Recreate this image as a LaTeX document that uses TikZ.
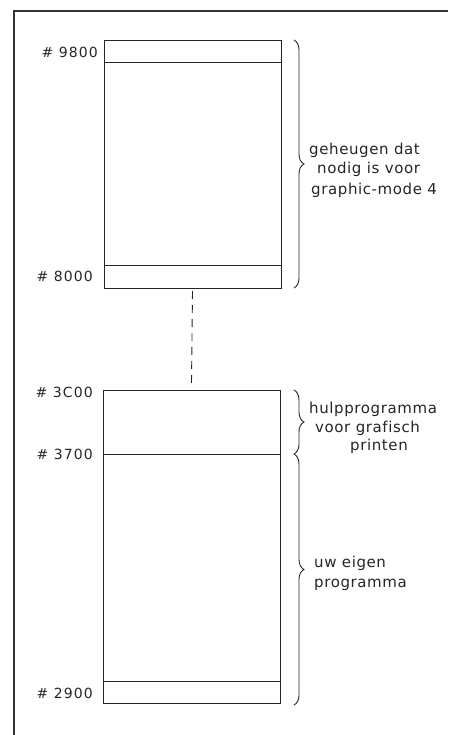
\documentclass[tikz,border=0pt]{standalone}
\usepackage{fontspec}
\setmainfont{DejaVu Sans}
\newfontfamily\techfont[LetterSpace=4,Ligatures=NoCommon]{DejaVu Sans}
\newfontfamily\numfont[LetterSpace=8]{DejaVu Sans}
\usetikzlibrary{decorations.pathreplacing}
\tikzset{
  thin line/.style={line width=0.9pt, draw=black!85},
  membox/.style={thin line, rectangle, inner sep=0pt, outer sep=0pt, minimum width=177pt, anchor=north west},
  addr/.style={anchor=base east, inner sep=0pt, font=\numfont\fontsize{14}{16}\selectfont, text=black!85},
  note/.style={anchor=base west, inner sep=0pt, font=\techfont\fontsize{15}{18}\selectfont, text=black!85},
  curly/.style={thin line, decorate, decoration={brace, amplitude=10pt, #1}},
  curly/.default={aspect=0.5}
}
\begin{document}
\begin{tikzpicture}[x=1pt,y=-1pt]
\useasboundingbox[fill=white] (0,0) rectangle (448,735);
% frame
\draw[line width=2.4pt, black!80] (448,11) -- (14,11) -- (14,735);
% boxes
\node[membox, minimum height=248pt] (upper) at (104,40) {};
\node[membox, minimum height=313pt] (lower) at (103,390) {};
\draw[thin line] ([yshift=-22pt]upper.north west) -- ([yshift=-22pt]upper.north east);
\draw[thin line] ([yshift=23pt]upper.south west) -- ([yshift=23pt]upper.south east);
\draw[thin line] ([yshift=-64pt]lower.north west) -- ([yshift=-64pt]lower.north east);
\draw[thin line] ([yshift=22pt]lower.south west) -- ([yshift=22pt]lower.south east);
% dashed connector
\draw[thin line, dash pattern=on 8pt off 6pt] ([yshift=-3pt]upper.south) -- ([yshift=7pt]lower.north);
% addresses
\node[addr] (a9800) at (98,58) {\# 9800};
\node[addr] (a8000) at (93,281) {\# 8000};
\node[addr] (a3C00) at (93,397) {\# 3C00};
\node[addr] (a3700) at (93,459) {\# 3700};
\node[addr] (a2900) at (93,698) {\# 2900};
% braces
\coordinate (b1t) at (294,40);
\coordinate (b1b) at (294,288);
\coordinate (b2t) at (294,390);
\coordinate (b2b) at (294,454);
\coordinate (b3t) at (294,454);
\coordinate (b3b) at (294,705);
\draw[curly] (b1t) -- (b1b);
\draw[curly] (b2t) -- (b2b);
\draw[curly={aspect=0.46}] (b3t) -- (b3b);
% notes
\node[note] (n1a) at (309,155) {geheugen dat};
\node[note] (n1b) at (317,174) {nodig is voor};
\node[note] (n1c) at (311,195) {graphic-mode 4};
\node[note] (n2a) at (309,413) {hulpprogramma};
\node[note] (n2b) at (315,432) {voor grafisch};
\node[note] (n2c) at (350,450) {printen};
\node[note] (n3a) at (314,567) {uw eigen};
\node[note] (n3b) at (314,587) {programma};
\end{tikzpicture}
\end{document}
